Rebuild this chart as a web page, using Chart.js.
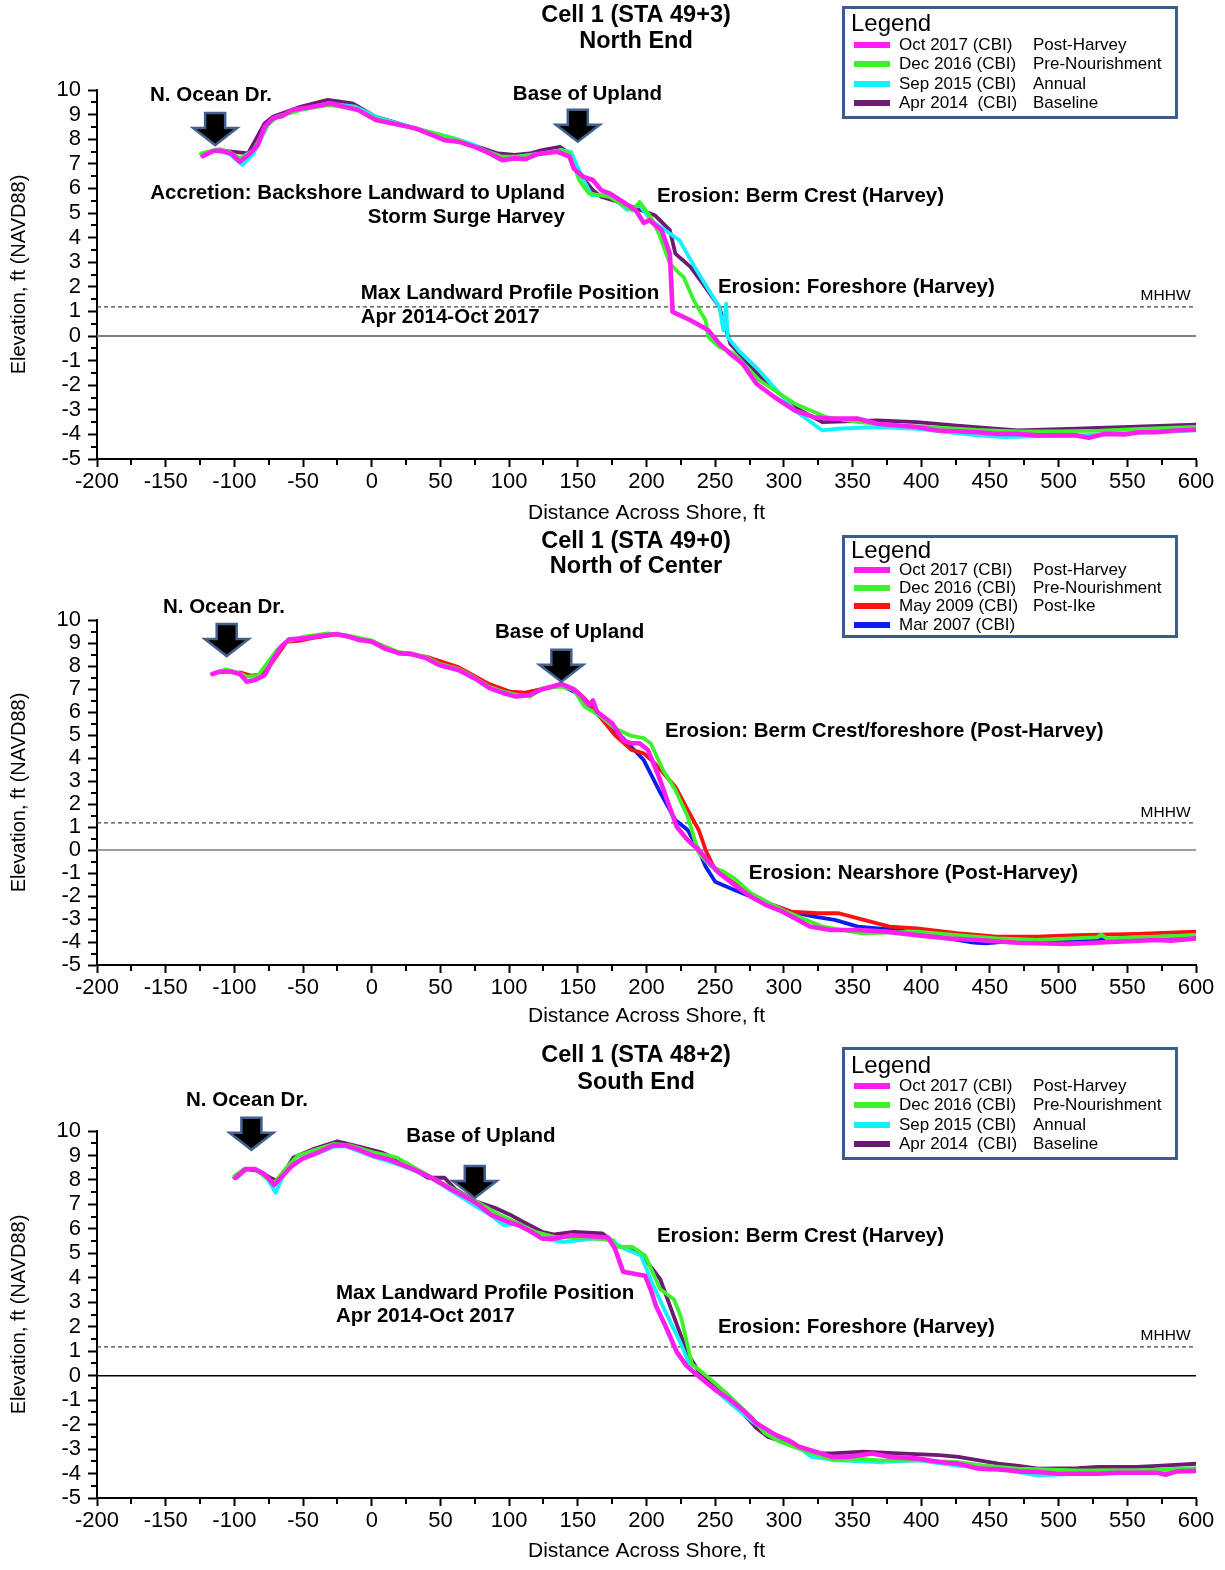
<!DOCTYPE html>
<html>
<head>
<meta charset="utf-8">
<script src="https://cdn.jsdelivr.net/npm/chart.js@4.4.1/dist/chart.umd.min.js"></script>
<style>
  body { margin: 0; background: #fff; width: 1225px; height: 1570px; position: relative; overflow: hidden; }
  .panel { position: absolute; left: 0; width: 1225px; }
  canvas { display: block; }
</style>
</head>
<body>
<div class="panel" style="top:0"><canvas id="ne" width="1225" height="528"></canvas></div>
<div class="panel" style="top:528px"><canvas id="nc" width="1225" height="510"></canvas></div>
<div class="panel" style="top:1038px"><canvas id="se" width="1225" height="532"></canvas></div>
<script>
const FONT = '"Liberation Sans", Arial, sans-serif';

// axis ticks
const xTicks = { min: -200, max: 600, step: 50 };
const yTicks = { min: -5, max: 10, step: 1 };
const MHHW = 1.18;

// ---- Cell 1, STA 49+3 (North End) ----
const neOct17X = [-123,-115,-109,-102,-96,-89,-83,-78,-72,-65,-58,-43,-30,-20,-10,3,17,32,40,53,63,75,86,95,104,112,121,135,144,147,154,161,167,173,183,192,198,202,211,217,219,232,245,253,261,270,280,293,308,322,334,354,368,383,397,412,426,441,455,470,484,499,513,522,533,548,559,571,585,600];
const neOct17Y = [7.31,7.53,7.53,7.4,7.08,7.4,7.76,8.5,8.85,8.94,9.19,9.32,9.46,9.32,9.19,8.78,8.62,8.44,8.26,7.96,7.9,7.69,7.42,7.15,7.22,7.19,7.4,7.49,7.29,6.81,6.47,6.34,5.93,5.8,5.45,5.12,4.6,4.71,4.3,3.35,0.98,0.64,0.23,-0.31,-0.72,-1.13,-1.94,-2.48,-3.03,-3.3,-3.36,-3.36,-3.57,-3.64,-3.7,-3.84,-3.87,-3.91,-3.98,-3.98,-4.04,-4.04,-4.04,-4.14,-3.98,-4.0,-3.91,-3.91,-3.84,-3.81];
const neDec16X = [-124,-111,-104,-96,-86,-76,-69,-52,-32,-12,6,26,46,63,75,95,106,124,138,144,151,158,173,182,190,195,203,209,217,224,227,235,243,245,253,264,282,308,331,354,380,410,440,470,500,530,560,600];
const neDec16Y = [7.42,7.6,7.49,7.22,7.56,8.58,8.91,9.19,9.39,9.25,8.78,8.51,8.24,7.96,7.69,7.29,7.29,7.4,7.56,7.42,6.34,5.8,5.66,5.35,5.1,5.45,4.84,4.17,2.94,2.54,2.4,1.38,0.64,-0.04,-0.45,-0.72,-1.8,-2.75,-3.3,-3.5,-3.62,-3.72,-3.82,-3.88,-3.88,-3.85,-3.78,-3.7];
const neSep15X = [-123,-114,-104,-94,-86,-75,-69,-52,-32,-12,6,26,46,63,75,92,106,124,138,145,153,160,173,186,195,203,224,235,244,253,256,258,259,267,282,308,328,339,368,397,441,461,513,542,600];
const neSep15Y = [7.4,7.53,7.42,6.95,7.42,8.64,8.91,9.19,9.46,9.32,8.85,8.53,8.24,7.99,7.76,7.22,7.29,7.42,7.56,7.49,6.47,5.73,5.75,5.12,5.32,4.71,3.89,2.81,1.99,1.18,0.23,1.32,-0.04,-0.58,-1.4,-3.03,-3.84,-3.77,-3.7,-3.77,-4.04,-4.11,-4.04,-3.98,-3.84];
const neApr14X = [-124,-112,-90,-78,-72,-52,-32,-14,3,20,35,52,66,92,104,115,124,137,144,153,161,167,183,206,217,221,232,241,253,261,282,308,328,368,397,426,470,513,557,600];
const neApr14Y = [7.4,7.56,7.42,8.64,8.91,9.32,9.6,9.46,8.91,8.64,8.37,8.03,7.9,7.42,7.36,7.42,7.56,7.69,7.42,6.47,5.93,5.66,5.39,4.91,4.3,3.35,2.81,2.13,1.18,-0.31,-1.6,-2.9,-3.5,-3.43,-3.5,-3.64,-3.84,-3.77,-3.68,-3.6];

// ---- Cell 1, STA 49+0 (North of Center) ----
const ncOct17X = [-116,-111,-102,-96,-91,-85,-78,-72,-66,-60,-49,-40,-26,-17,-9,0,9,20,29,40,49,63,75,86,95,105,115,124,138,147,153,158,161,164,175,183,189,195,201,209,215,222,230,238,244,253,264,276,287,299,308,319,334,354,374,397,418,441,470,507,542,571,582,600];
const ncOct17Y = [7.65,7.75,7.75,7.65,7.32,7.39,7.6,8.26,8.84,9.16,9.2,9.28,9.39,9.28,9.13,9.06,8.77,8.55,8.52,8.33,8.04,7.83,7.46,7.03,6.84,6.67,6.74,6.99,7.22,6.99,6.67,6.3,6.5,6.01,5.51,4.78,4.64,4.64,4.35,3.19,2.17,1.01,0.43,0.0,-0.43,-1.01,-1.52,-2.03,-2.39,-2.68,-2.97,-3.33,-3.48,-3.48,-3.55,-3.7,-3.84,-3.91,-4.03,-4.09,-3.99,-3.91,-3.94,-3.84];
const ncDec16X = [-116,-106,-96,-91,-83,-78,-69,-62,-49,-32,-20,-1,9,20,29,40,49,63,75,86,95,106,115,124,138,147,155,167,177,189,198,203,212,221,230,238,247,256,264,276,299,328,357,397,426,455,484,528,531,535,571,600];
const ncDec16Y = [7.65,7.86,7.68,7.54,7.57,7.97,8.7,9.06,9.28,9.42,9.35,9.13,8.85,8.6,8.55,8.38,8.1,7.88,7.5,7.08,6.9,6.74,6.67,7.03,7.1,6.96,6.23,5.8,5.29,4.96,4.86,4.64,3.48,2.61,1.45,-0.14,-0.72,-0.94,-1.23,-1.88,-2.61,-3.33,-3.62,-3.55,-3.7,-3.84,-3.91,-3.8,-3.68,-3.84,-3.77,-3.7];
const ncMay09X = [-96,-88,-80,-72,-62,-52,-40,-26,-10,0,20,40,63,86,101,112,124,138,147,155,166,177,189,198,206,221,230,238,241,243,250,264,282,305,325,340,354,377,397,426,455,484,513,557,600];
const ncMay09Y = [7.72,7.58,7.62,8.2,9.05,9.1,9.25,9.38,9.2,9.08,8.58,8.4,7.95,7.2,6.88,6.84,7.0,7.18,7.0,6.59,5.8,5.0,4.35,4.2,3.77,2.75,1.74,0.87,0.36,0.0,-0.87,-1.45,-2.17,-2.68,-2.75,-2.75,-2.97,-3.33,-3.41,-3.62,-3.77,-3.77,-3.7,-3.65,-3.55];
const ncMar07X = [95,110,124,138,150,166,183,198,209,221,230,238,243,250,264,282,305,322,337,354,383,412,438,447,470,513,557,600];
const ncMar07Y = [6.9,6.8,7.0,7.15,6.8,5.8,4.86,3.91,2.61,1.3,0.87,0.0,-0.72,-1.38,-1.74,-2.17,-2.68,-2.9,-3.04,-3.33,-3.48,-3.77,-4.03,-4.06,-3.94,-3.91,-3.84,-3.77];

// ---- Cell 1, STA 48+2 (South End) ----
const seOct17X = [-99,-92,-85,-78,-71,-65,-58,-51,-39,-28,-19,-11,1,12,21,30,41,50,58,70,78,87,99,107,116,124,133,145,156,172,177,183,199,203,207,214,222,229,236,245,251,259,271,280,294,303,311,323,335,346,364,378,398,413,427,442,456,471,485,500,529,543,572,578,586,600];
const seOct17Y = [8.09,8.44,8.44,8.23,7.79,8.16,8.58,8.85,9.13,9.41,9.41,9.27,8.99,8.85,8.64,8.44,8.16,7.88,7.61,7.26,6.98,6.57,6.29,6.15,5.88,5.6,5.6,5.74,5.71,5.65,5.2,4.25,4.08,3.53,2.84,2.01,0.97,0.41,0.07,-0.35,-0.62,-0.9,-1.45,-1.94,-2.42,-2.63,-2.9,-3.11,-3.32,-3.32,-3.18,-3.32,-3.39,-3.53,-3.6,-3.8,-3.83,-3.91,-3.94,-4.01,-4.01,-3.97,-3.97,-4.05,-3.91,-3.89];
const seDec16X = [-100,-93,-85,-77,-71,-62,-54,-39,-28,-16,1,18,44,76,93,104,119,133,162,176,178,190,199,210,220,225,233,245,259,277,286,297,317,337,355,369,398,427,444,471,514,557,600];
const seDec16Y = [8.16,8.44,8.44,8.09,7.88,8.51,8.99,9.27,9.47,9.41,9.13,8.92,8.09,7.12,6.57,6.29,5.88,5.67,5.6,5.53,5.26,5.26,4.91,3.53,3.11,2.42,0.48,-0.07,-0.76,-1.73,-2.35,-2.7,-3.11,-3.46,-3.39,-3.46,-3.46,-3.53,-3.67,-3.8,-3.87,-3.87,-3.78];
const seSep15X = [-98,-91,-84,-77,-70,-64,-58,-50,-39,-28,-19,1,21,41,58,78,87,96,107,124,139,162,172,184,196,204,213,225,233,248,262,277,291,306,320,340,369,398,427,456,484,514,543,600];
const seSep15Y = [8.09,8.44,8.44,8.16,7.47,8.23,8.6,8.9,9.1,9.35,9.38,8.95,8.6,8.15,7.55,6.85,6.55,6.15,6.2,5.62,5.46,5.6,5.6,5.19,4.91,3.8,2.7,1.31,0.21,-0.48,-1.18,-1.87,-2.42,-2.7,-3.32,-3.46,-3.53,-3.46,-3.69,-3.8,-4.08,-4.01,-3.94,-3.87];
const seApr14X = [-100,-91,-82,-74,-68,-57,-42,-25,-13,7,18,30,41,53,61,76,90,101,110,124,133,147,168,176,178,196,210,220,230,240,255,280,288,303,320,335,358,384,413,427,456,471,485,514,529,557,572,600];
const seApr14Y = [8.09,8.44,8.37,8.09,7.95,8.92,9.27,9.58,9.41,9.13,8.85,8.44,8.09,8.09,7.61,7.12,6.85,6.57,6.29,5.88,5.77,5.88,5.81,5.46,5.33,4.98,3.94,2.4,0.9,0.0,-0.6,-2.14,-2.49,-2.77,-3.18,-3.18,-3.11,-3.18,-3.25,-3.32,-3.6,-3.69,-3.8,-3.78,-3.73,-3.73,-3.69,-3.6];

const COLORS = {
  oct2017: '#ff1ef0',
  dec2016: '#3cf22a',
  sep2015: '#14f0ff',
  apr2014: '#6c1a72',
  may2009: '#ff1010',
  mar2007: '#0a1cf0'
};

function zip(xs, ys) {
  return xs.map((x, i) => ({ x, y: ys[i] }));
}

function profile(label, note, color, xs, ys, width) {
  return {
    label, note,
    data: zip(xs, ys),
    borderColor: color,
    backgroundColor: color,
    borderWidth: width || 3.8,
    pointRadius: 0,
    tension: 0,
    fill: false,
    borderJoinStyle: 'round',
    borderCapStyle: 'round'
  };
}

function refLine(y, color, width, dash) {
  return {
    label: '',
    data: [{ x: xTicks.min, y }, { x: xTicks.max, y }],
    borderColor: color,
    borderWidth: width,
    borderDash: dash || [],
    pointRadius: 0,
    tension: 0,
    fill: false
  };
}

function drawArrow(ctx, cx, tip) {
  // block arrow pointing down, tip at (cx, tip)
  const halfHead = 22, halfShaft = 10, headH = 17, totalH = 32;
  const top = tip - totalH, neck = tip - headH;
  ctx.save();
  ctx.beginPath();
  ctx.moveTo(cx - halfShaft, top);
  ctx.lineTo(cx + halfShaft, top);
  ctx.lineTo(cx + halfShaft, neck);
  ctx.lineTo(cx + halfHead, neck);
  ctx.lineTo(cx, tip);
  ctx.lineTo(cx - halfHead, neck);
  ctx.lineTo(cx - halfShaft, neck);
  ctx.closePath();
  ctx.fillStyle = '#000';
  ctx.fill();
  ctx.lineWidth = 2.5;
  ctx.lineJoin = 'miter';
  ctx.strokeStyle = '#43618c';
  ctx.stroke();
  ctx.restore();
}

function decorPlugin(spec) {
  return {
    id: 'decor',
    afterDatasetsDraw(chart) {
      const { ctx, scales: { x, y } } = chart;
      ctx.save();

      // minor ticks
      ctx.strokeStyle = '#000';
      ctx.lineWidth = 2;
      ctx.beginPath();
      for (let v = xTicks.min + xTicks.step / 2; v < xTicks.max; v += xTicks.step) {
        const px = Math.round(x.getPixelForValue(v));
        ctx.moveTo(px, y.bottom);
        ctx.lineTo(px, y.bottom + 6);
      }
      for (let v = yTicks.min + yTicks.step / 2; v < yTicks.max; v += yTicks.step) {
        const py = Math.round(y.getPixelForValue(v));
        ctx.moveTo(x.left - 6, py);
        ctx.lineTo(x.left, py);
      }
      ctx.stroke();

      spec.arrows.forEach(a => drawArrow(ctx, x.getPixelForValue(a.x), y.getPixelForValue(a.y)));

      ctx.fillStyle = '#000';
      ctx.textBaseline = 'middle';
      spec.notes.forEach(n => {
        ctx.font = n.font || `bold 20.5px ${FONT}`;
        ctx.textAlign = n.align || 'left';
        ctx.fillText(n.text, x.getPixelForValue(n.x), y.getPixelForValue(n.y));
      });

      // MHHW label
      ctx.font = `15.5px ${FONT}`;
      ctx.textAlign = 'right';
      ctx.fillText('MHHW', x.getPixelForValue(596), y.getPixelForValue(MHHW + 0.45));

      // panel title
      ctx.font = `bold 23.5px ${FONT}`;
      ctx.textAlign = 'center';
      spec.titles.forEach((t, i) => ctx.fillText(t, 636, spec.titleY[i]));

      // legend box
      const lg = spec.legend;
      ctx.fillStyle = '#fff';
      ctx.fillRect(843, lg.top, 333, lg.bottom - lg.top);
      ctx.strokeStyle = '#3d5b8c';
      ctx.lineWidth = 3;
      ctx.strokeRect(843.5, lg.top + 0.5, 333, lg.bottom - lg.top);
      ctx.fillStyle = '#000';
      ctx.textAlign = 'left';
      ctx.font = `24px ${FONT}`;
      ctx.fillText('Legend', 851, lg.headY);
      ctx.font = `17px ${FONT}`;
      const rows = chart.data.datasets.filter(d => d.note !== undefined);
      rows.forEach((d, i) => {
        const ry = lg.rowY[i];
        ctx.strokeStyle = d.borderColor;
        ctx.lineWidth = 6;
        ctx.beginPath();
        ctx.moveTo(854, ry);
        ctx.lineTo(890, ry);
        ctx.stroke();
        ctx.fillText(d.label, 899, ry);
        ctx.fillText(d.note, 1033, ry);
      });
      ctx.restore();
    }
  };
}

function makePanel(id, spec) {
  const canvas = document.getElementById(id);
  const H = canvas.height;
  return new Chart(canvas, {
    type: 'line',
    data: {
      datasets: spec.series.concat([
        refLine(MHHW, '#444', 1.2, [4, 3]),
        refLine(0, spec.zeroColor, spec.zeroWidth)
      ])
    },
    options: {
      responsive: false,
      animation: false,
      events: [],
      layout: { padding: { top: spec.plotTop, right: 29, bottom: 0, left: 0 } },
      plugins: { legend: { display: false }, tooltip: { enabled: false } },
      scales: {
        x: {
          type: 'linear',
          min: xTicks.min,
          max: xTicks.max,
          ticks: { stepSize: xTicks.step, color: '#000', font: { family: FONT, size: 22 }, padding: 2, maxRotation: 0, autoSkip: false },
          grid: { drawOnChartArea: false, drawTicks: true, tickLength: 8, tickWidth: 2, tickColor: '#000' },
          border: { display: true, color: '#000', width: 2 },
          title: { display: true, text: 'Distance Across Shore, ft', color: '#000', font: { family: FONT, size: 21 }, padding: { top: 0, bottom: spec.xTitlePad } },
          afterFit: s => { s.height = H - spec.plotBottom; }
        },
        y: {
          type: 'linear',
          min: yTicks.min,
          max: yTicks.max,
          ticks: { stepSize: yTicks.step, color: '#000', font: { family: FONT, size: 22 }, padding: 7, autoSkip: false },
          grid: { drawOnChartArea: false, drawTicks: true, tickLength: 9, tickWidth: 2, tickColor: '#000' },
          border: { display: true, color: '#000', width: 2 },
          title: { display: true, text: 'Elevation, ft (NAVD88)', color: '#000', font: { family: FONT, size: 20 }, padding: { top: 7, bottom: 0 } },
          afterFit: s => { s.width = 97; }
        }
      }
    },
    plugins: [decorPlugin(spec)]
  });
}

makePanel('ne', {
  plotTop: 90, plotBottom: 459, xTitlePad: 2,
  zeroColor: '#808080', zeroWidth: 2,
  titles: ['Cell 1 (STA 49+3)', 'North End'], titleY: [16, 42],
  legend: { top: 7, bottom: 117, headY: 24, rowY: [45, 64, 84, 103] },
  series: [
    profile('Oct 2017 (CBI)', 'Post-Harvey', COLORS.oct2017, neOct17X, neOct17Y, 4.6),
    profile('Dec 2016 (CBI)', 'Pre-Nourishment', COLORS.dec2016, neDec16X, neDec16Y),
    profile('Sep 2015 (CBI)', 'Annual', COLORS.sep2015, neSep15X, neSep15Y),
    profile('Apr 2014  (CBI)', 'Baseline', COLORS.apr2014, neApr14X, neApr14Y)
  ],
  arrows: [{ x: -114, y: 7.76 }, { x: 150, y: 7.9 }],
  notes: [
    { text: 'N. Ocean Dr.', x: -117, y: 9.8, align: 'center' },
    { text: 'Base of Upland', x: 157, y: 9.84, align: 'center' },
    { text: 'Accretion: Backshore Landward to Upland', x: 140.6, y: 5.81, align: 'right' },
    { text: 'Storm Surge Harvey', x: 140.6, y: 4.84, align: 'right' },
    { text: 'Erosion: Berm Crest (Harvey)', x: 207.6, y: 5.69 },
    { text: 'Max Landward Profile Position', x: -8, y: 1.75 },
    { text: 'Apr 2014-Oct 2017', x: -8, y: 0.77 },
    { text: 'Erosion: Foreshore (Harvey)', x: 252, y: 1.99 }
  ]
});

makePanel('nc', {
  plotTop: 92, plotBottom: 437, xTitlePad: 9,
  zeroColor: '#808080', zeroWidth: 1.5,
  titles: ['Cell 1 (STA 49+0)', 'North of Center'], titleY: [14, 39],
  legend: { top: 8, bottom: 108, headY: 23, rowY: [42, 60, 78, 97] },
  series: [
    profile('Oct 2017 (CBI)', 'Post-Harvey', COLORS.oct2017, ncOct17X, ncOct17Y, 4.6),
    profile('Dec 2016 (CBI)', 'Pre-Nourishment', COLORS.dec2016, ncDec16X, ncDec16Y),
    profile('May 2009 (CBI)', 'Post-Ike', COLORS.may2009, ncMay09X, ncMay09Y),
    profile('Mar 2007 (CBI)', '', COLORS.mar2007, ncMar07X, ncMar07Y)
  ],
  arrows: [{ x: -105.6, y: 8.43 }, { x: 138, y: 7.32 }],
  notes: [
    { text: 'N. Ocean Dr.', x: -107.6, y: 10.57, align: 'center' },
    { text: 'Base of Upland', x: 144, y: 9.48, align: 'center' },
    { text: 'Erosion: Berm Crest/foreshore (Post-Harvey)', x: 213.4, y: 5.17 },
    { text: 'Erosion: Nearshore (Post-Harvey)', x: 274.5, y: -1.0 }
  ]
});

makePanel('se', {
  plotTop: 93, plotBottom: 460, xTitlePad: 6,
  zeroColor: '#000', zeroWidth: 1.5,
  titles: ['Cell 1 (STA 48+2)', 'South End'], titleY: [18, 45],
  legend: { top: 10, bottom: 120, headY: 28, rowY: [48, 67, 87, 106] },
  series: [
    profile('Oct 2017 (CBI)', 'Post-Harvey', COLORS.oct2017, seOct17X, seOct17Y, 4.6),
    profile('Dec 2016 (CBI)', 'Pre-Nourishment', COLORS.dec2016, seDec16X, seDec16Y),
    profile('Sep 2015 (CBI)', 'Annual', COLORS.sep2015, seSep15X, seSep15Y),
    profile('Apr 2014  (CBI)', 'Baseline', COLORS.apr2014, seApr14X, seApr14Y)
  ],
  arrows: [{ x: -87.6, y: 9.23 }, { x: 75, y: 7.26 }],
  notes: [
    { text: 'N. Ocean Dr.', x: -90.8, y: 11.27, align: 'center' },
    { text: 'Base of Upland', x: 79.5, y: 9.8, align: 'center' },
    { text: 'Max Landward Profile Position', x: -26.1, y: 3.35 },
    { text: 'Apr 2014-Oct 2017', x: -26.1, y: 2.41 },
    { text: 'Erosion: Berm Crest (Harvey)', x: 207.6, y: 5.71 },
    { text: 'Erosion: Foreshore (Harvey)', x: 252, y: 1.96 }
  ]
});
</script>
</body>
</html>
